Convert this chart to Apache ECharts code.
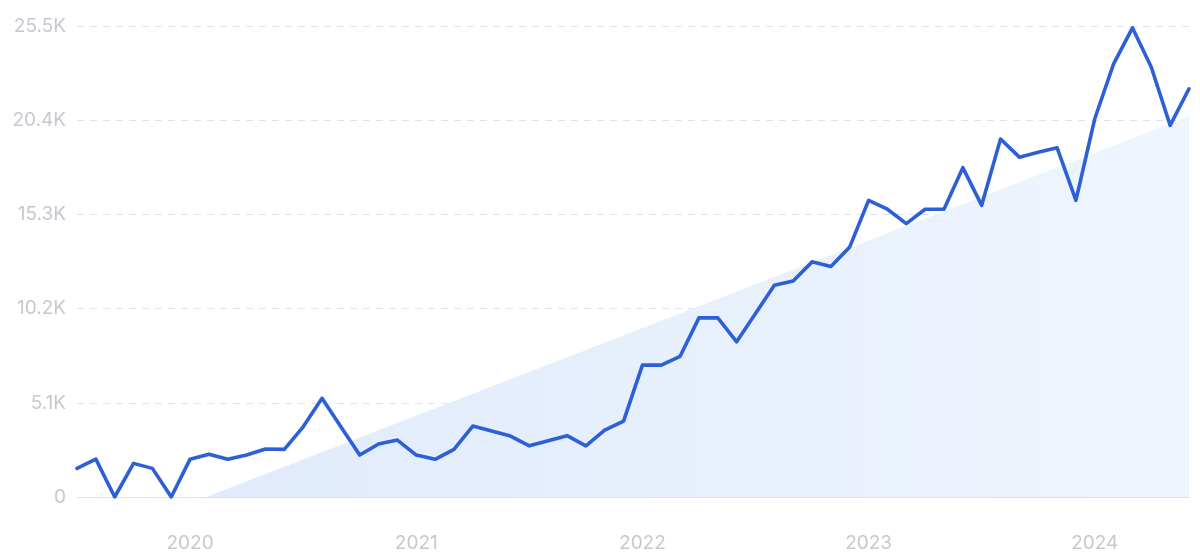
<!DOCTYPE html>
<html>
<head>
<meta charset="utf-8">
<script src="https://cdn.jsdelivr.net/npm/echarts@6/dist/echarts.min.js"></script>
<style>
html,body{margin:0;padding:0;background:#fff;}
#c{width:1200px;height:560px;}
</style>
</head>
<body>
<div id="c"></div>
<script>
// Months Jul 2019 .. Jun 2024
const months = [
 '2019-07','2019-08','2019-09','2019-10','2019-11','2019-12',
 '2020-01','2020-02','2020-03','2020-04','2020-05','2020-06','2020-07','2020-08','2020-09','2020-10','2020-11','2020-12',
 '2021-01','2021-02','2021-03','2021-04','2021-05','2021-06','2021-07','2021-08','2021-09','2021-10','2021-11','2021-12',
 '2022-01','2022-02','2022-03','2022-04','2022-05','2022-06','2022-07','2022-08','2022-09','2022-10','2022-11','2022-12',
 '2023-01','2023-02','2023-03','2023-04','2023-05','2023-06','2023-07','2023-08','2023-09','2023-10','2023-11','2023-12',
 '2024-01','2024-02','2024-03','2024-04','2024-05','2024-06'
];
const searches = [
 1550, 2050, 0, 1820, 1550, 0,
 2050, 2320, 2040, 2270, 2600, 2580, 3800, 5340, 3800, 2270, 2870, 3080,
 2270, 2040, 2580, 3840, 3570, 3300, 2770, 3050, 3320, 2770, 3620, 4110,
 7140, 7140, 7620, 9700, 9700, 8400, 9930, 11470, 11700, 12730, 12480, 13540,
 16060, 15580, 14800, 15580, 15580, 17830, 15790, 19380, 18400, 18670, 18910, 16060,
 20480, 23450, 25400, 23270, 20120, 22100
];
// trend band: [month index, value] read at its two ends
const trend = [[6.85, 0], [59, 20600]];
const yTicks = [0, 5100, 10200, 15300, 20400, 25500];
const yTickLabels = ['0', '5.1K', '10.2K', '15.3K', '20.4K', '25.5K'];
const xTickLabels = {'2020-01':'2020','2021-01':'2021','2022-01':'2022','2023-01':'2023','2024-01':'2024'};

const chart = echarts.init(document.getElementById('c'), null, {renderer:'canvas'});
const labelFont = {color:'#c6c8cf', fontSize:19, fontFamily:'Inter, "Noto Sans", sans-serif'};
chart.setOption({
  animation:false,
  backgroundColor:'#ffffff',
  grid:{left:77, right:11, top:26, bottom:63, containLabel:false},
  xAxis:[{
    type:'category', data:months, boundaryGap:false,
    axisLine:{show:true, lineStyle:{color:'#d6e3f7', width:1}},
    axisTick:{show:false},
    splitLine:{show:false},
    axisLabel:Object.assign({
      interval:(i, v) => xTickLabels[v] !== undefined,
      formatter:v => xTickLabels[v] || '',
      margin:37
    }, labelFont)
  },{
    type:'value', min:0, max:months.length-1, show:false
  }],
  yAxis:{
    type:'value', min:yTicks[0], max:yTicks[yTicks.length-1], interval:5100,
    axisLine:{show:false}, axisTick:{show:false},
    splitLine:{show:true, lineStyle:{color:'#dbe3f0', type:[7,6], width:1}},
    axisLabel:Object.assign({
      margin:11,
      formatter:v => { const k = yTicks.indexOf(v); return k >= 0 ? yTickLabels[k] : ''; }
    }, labelFont)
  },
  series:[{
    type:'line', xAxisIndex:1, data:trend, symbol:'none', silent:true, z:1,
    lineStyle:{width:0, opacity:0},
    areaStyle:{opacity:1, color:new echarts.graphic.LinearGradient(0,0,1,0,[
      {offset:0, color:'#e0ebfb'},{offset:1, color:'#eff5fe'}])}
  },{
    type:'line', data:searches, symbol:'none', z:3,
    lineStyle:{color:'#2d5fd6', width:3.6, join:'round', cap:'round'}
  }]
});
</script>
</body>
</html>
